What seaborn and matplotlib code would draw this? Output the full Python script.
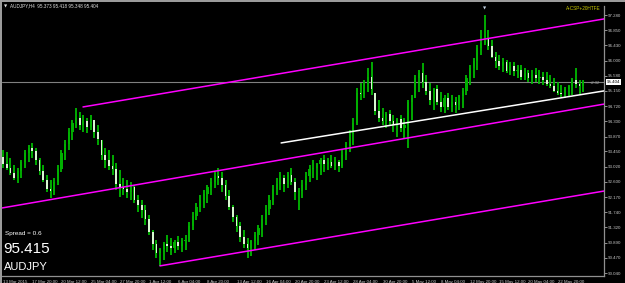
import numpy as np
import pandas as pd
import matplotlib
matplotlib.use("Agg")
import matplotlib.pyplot as plt
from matplotlib.lines import Line2D
import seaborn as sns

# ---------------- data ----------------
highs = [93.49, 93.44, 93.27, 93.07, 92.99, 93.21, 93.49, 93.63, 93.69, 93.55,
         93.27, 93.07, 92.79, 92.65, 92.71, 93.07, 93.49, 93.77, 94.11, 94.33,
         94.67, 94.56, 94.47, 94.39, 94.47, 94.33, 94.19, 93.77, 93.55, 93.49,
         93.35, 93.13, 92.93, 92.71, 92.65, 92.59, 92.51, 92.23, 92.09, 91.95,
         91.67, 91.25, 90.97, 90.74, 90.91, 91.11, 91.02, 90.97, 91.08, 91.02,
         91.11, 91.47, 91.75, 92.00, 92.23, 92.37, 92.51, 92.71, 92.87, 92.99,
         92.87, 92.65, 92.37, 91.95, 91.67, 91.47, 91.25, 91.02, 90.97, 91.19,
         91.39, 91.67, 91.95, 92.23, 92.51, 92.71, 92.87, 92.79, 92.87, 92.99,
         92.71, 92.42, 92.65, 92.87, 93.07, 93.21, 93.13, 93.27, 93.35, 93.27,
         93.35, 93.30, 93.21, 93.49, 93.72, 94.05, 94.39, 95.23, 95.37, 95.46,
         95.79, 95.96, 95.09, 94.89, 94.67, 94.56, 94.61, 94.47, 94.39, 94.47,
         94.39, 94.89, 95.04, 95.60, 95.74, 95.93, 95.60, 95.37, 95.23, 95.32,
         95.12, 95.04, 95.09, 95.04, 94.98, 95.04, 95.23, 95.60, 95.88, 96.07,
         96.44, 96.86, 97.28, 96.86, 96.58, 96.24, 96.16, 96.07, 96.02, 95.96,
         95.96, 95.88, 95.88, 95.79, 95.74, 95.74, 95.79, 95.74, 95.68, 95.68,
         95.60, 95.51, 95.40, 95.32, 95.26, 95.32, 95.51, 95.79, 95.46, 95.46]
lows = [92.99, 92.93, 92.79, 92.65, 92.57, 92.71, 92.99, 93.15, 93.27, 93.07,
        92.79, 92.59, 92.31, 92.14, 92.23, 92.51, 92.87, 93.21, 93.49, 93.77,
        94.11, 94.05, 94.00, 93.97, 94.05, 93.83, 93.63, 93.21, 92.99, 92.93,
        92.79, 92.37, 92.17, 92.23, 92.14, 92.09, 92.00, 91.75, 91.58, 91.39,
        91.11, 90.69, 90.46, 90.24, 90.41, 90.63, 90.55, 90.60, 90.69, 90.63,
        90.69, 90.91, 91.25, 91.53, 91.75, 91.86, 92.00, 92.23, 92.42, 92.51,
        92.31, 92.09, 91.81, 91.47, 91.19, 90.91, 90.74, 90.46, 90.52, 90.69,
        90.83, 91.05, 91.39, 91.67, 91.95, 92.23, 92.37, 92.31, 92.42, 92.51,
        92.09, 91.81, 92.14, 92.37, 92.59, 92.71, 92.65, 92.79, 92.87, 92.93,
        92.99, 92.93, 92.87, 92.99, 93.21, 93.44, 93.63, 94.19, 94.89, 94.95,
        95.12, 95.04, 94.47, 94.28, 94.19, 94.11, 94.19, 94.00, 93.86, 94.00,
        93.83, 93.55, 94.33, 94.95, 95.12, 95.23, 95.04, 94.75, 94.61, 94.75,
        94.56, 94.53, 94.61, 94.56, 94.53, 94.61, 94.67, 95.04, 95.32, 95.51,
        95.74, 96.16, 96.44, 96.30, 96.07, 95.79, 95.74, 95.68, 95.65, 95.60,
        95.57, 95.51, 95.46, 95.46, 95.40, 95.35, 95.40, 95.35, 95.32, 95.29,
        95.23, 95.12, 95.04, 94.98, 94.95, 95.01, 95.04, 95.23, 95.07, 95.12]
closes = [93.10, 93.00, 92.85, 92.70, 92.90, 93.15, 93.40, 93.55, 93.45, 93.20,
          92.90, 92.65, 92.40, 92.35, 92.60, 92.95, 93.40, 93.65, 94.00, 94.25,
          94.40, 94.20, 94.30, 94.15, 94.35, 94.00, 93.80, 93.35, 93.20, 93.05,
          92.95, 92.55, 92.45, 92.40, 92.30, 92.45, 92.10, 91.95, 91.80, 91.55,
          91.20, 90.85, 90.60, 90.70, 90.85, 90.80, 90.75, 90.90, 90.80, 90.95,
          90.95, 91.35, 91.65, 91.90, 92.10, 92.25, 92.45, 92.60, 92.75, 92.70,
          92.50, 92.20, 91.90, 91.60, 91.35, 91.05, 90.85, 90.75, 90.95, 91.10,
          91.30, 91.55, 91.85, 92.10, 92.40, 92.55, 92.70, 92.55, 92.80, 92.60,
          92.30, 92.35, 92.50, 92.75, 92.95, 93.00, 93.10, 93.20, 93.10, 93.15,
          93.05, 93.15, 93.05, 93.35, 93.60, 93.95, 94.25, 95.10, 95.05, 95.35,
          95.55, 95.20, 94.60, 94.40, 94.30, 94.50, 94.30, 94.20, 94.35, 94.10,
          94.20, 94.85, 94.95, 95.50, 95.65, 95.40, 95.15, 94.90, 95.20, 94.85,
          94.70, 94.95, 94.70, 94.85, 94.75, 95.00, 95.15, 95.50, 95.80, 96.00,
          96.35, 96.50, 96.60, 96.40, 96.10, 96.00, 95.85, 95.95, 95.70, 95.85,
          95.70, 95.75, 95.55, 95.65, 95.50, 95.60, 95.50, 95.55, 95.45, 95.35,
          95.30, 95.15, 95.10, 95.05, 95.20, 95.30, 95.45, 95.35, 95.30, 95.40]
first_open = 93.30

xtick_labels = ["13 Mar 2015", "17 Mar 20:00", "20 Mar 12:00", "25 Mar 04:00",
                "27 Mar 20:00", "1 Apr 12:00", "6 Apr 04:00", "8 Apr 20:00",
                "13 Apr 12:00", "16 Apr 04:00", "20 Apr 20:00", "23 Apr 12:00",
                "28 Apr 04:00", "30 Apr 20:00", "5 May 12:00", "8 May 04:00",
                "12 May 20:00", "15 May 12:00", "20 May 04:00", "22 May 20:00"]
ytick_values = [97.280, 96.850, 96.430, 96.000, 95.580, 95.150, 94.720, 94.300,
                93.870, 93.450, 93.020, 92.600, 92.170, 91.740, 91.320, 90.890,
                90.470, 90.040]

header = "AUDJPY,H4  95.373 95.418 95.348 95.404"
symbol = "AUDJPY"
last_price = 95.404
bid_big = "95.415"
spread_text = "Spread = 0.6"
indicator_name = "A-CSP+20HTFE"
timer_text = "<2:32"

# channel / trend line anchors (bar index, price)
upper_x, upper_y = [21.9, 164.7], [94.70, 97.17]
mid_x, mid_y = [-0.3, 164.7], [91.865, 94.78]
lower_x, lower_y = [43.0, 164.7], [90.24, 92.34]
trend_x, trend_y = [76.2, 164.7], [93.69, 95.15]

# ---------------- style ----------------
sns.set_style("dark", {"axes.facecolor": "black", "figure.facecolor": "black",
                       "axes.edgecolor": "#808080", "axes.grid": False,
                       "xtick.color": "#c8c8c8", "ytick.color": "#c8c8c8",
                       "text.color": "white", "axes.labelcolor": "white"})
plt.rcParams["font.family"] = ["Liberation Sans", "DejaVu Sans"]

W, H = 625, 283
fig = plt.figure(figsize=(W / 100, H / 100), dpi=100)
fig.patch.set_facecolor("black")
ax = fig.add_axes([2 / W, 7 / H, 602 / W, 270 / H])
ax.set_facecolor("black")

n = len(closes)
idx = np.arange(n)
opens = np.array([first_open] + closes[:-1])
cl = np.array(closes)
hi = np.array(highs)
lo = np.array(lows)
o_c = np.clip(opens, lo, hi)

wick_col = "#00c000"
ax.vlines(idx, lo, hi, color=wick_col, lw=1.25, zorder=3)
up = cl >= o_c
body_bottom = np.minimum(o_c, cl)
body_h = np.maximum(np.abs(cl - o_c), 0.02)
ax.bar(idx[up], body_h[up], bottom=body_bottom[up], width=0.6,
       color="#00b000", edgecolor="none", zorder=4)
ax.bar(idx[~up], body_h[~up], bottom=body_bottom[~up], width=0.45,
       color="#d8f8d0", edgecolor="none", zorder=4)

# current price line
ax.axhline(last_price, color="#808080", lw=0.8, zorder=2)

# rays
def ray(xs, ys, color):
    slope = (ys[1] - ys[0]) / (xs[1] - xs[0])
    x_end = 170
    df = pd.DataFrame({"x": [xs[0], x_end], "y": [ys[0], ys[0] + slope * (x_end - xs[0])]})
    sns.lineplot(data=df, x="x", y="y", ax=ax, color=color, lw=1.1, zorder=5)

ray(upper_x, upper_y, "#ff00ff")
ray(mid_x, mid_y, "#ff00ff")
ray(lower_x, lower_y, "#ff00ff")
ray(trend_x, trend_y, "#ffffff")

ax.set_xlim(-0.3, 164.7)
ax.set_ylim(89.956, 97.533)
ax.set_xlabel("")
ax.set_ylabel("")

# axes, ticks
for s in ["left", "top"]:
    ax.spines[s].set_visible(False)
for s in ["right", "bottom"]:
    ax.spines[s].set_color("#909090")
    ax.spines[s].set_linewidth(0.9)
ax.yaxis.tick_right()
ax.set_yticks(ytick_values)
ax.set_yticklabels([f"{v:.3f}" for v in ytick_values], fontsize=3.2)
ax.set_xticks(np.arange(0, 8 * len(xtick_labels), 8))
ax.set_xticklabels(xtick_labels, fontsize=3.2, ha="left")
ax.tick_params(axis="y", length=2, width=0.5, pad=1, colors="#c8c8c8")
ax.tick_params(axis="x", length=2, width=0.5, pad=0.8, colors="#c8c8c8")

# price box on the axis
ax.annotate(f"{last_price:.3f}", xy=(1.0, last_price), xycoords=("axes fraction", "data"),
            xytext=(2, 0), textcoords="offset points", fontsize=3.2, color="black",
            va="center", ha="left",
            bbox=dict(boxstyle="square,pad=0.15", fc="white", ec="none"),
            annotation_clip=False)
ax.text(160.8, last_price - 0.02, timer_text, fontsize=3.0, color="#a0a0a0",
        va="center", ha="left", zorder=6)
ax.text(132, 97.47, "\u25bc", fontsize=3, color="#c0d0e0", ha="center",
        va="center", family=["DejaVu Sans"], clip_on=False)

# overlay texts
fig.text(4 / W, 1 - 6 / H, "\u25bc", fontsize=3, color="#e0e0e0", va="center",
         family=["DejaVu Sans"])
fig.text(10 / W, 1 - 6 / H, header, fontsize=3.3, color="#e0e0e0", va="center")
fig.text(601 / W, 1 - 9 / H, indicator_name, fontsize=3.4, color="#c8c800",
         va="center", ha="right")
fig.text(5 / W, 1 - 234 / H, spread_text, fontsize=4.6, color="white", va="center")
fig.text(3 / W, 1 - 249 / H, bid_big, fontsize=11, color="white", va="center")
fig.text(4 / W, 1 - 267 / H, symbol, fontsize=8, color="white", va="center")

# window border
fig.add_artist(Line2D([0, 1], [1 - 1 / H, 1 - 1 / H], transform=fig.transFigure,
                      color="#a0a0a0", lw=1.4))
fig.add_artist(Line2D([1 / W, 1 / W], [0, 1], transform=fig.transFigure,
                      color="#a0a0a0", lw=1.4))

fig.savefig("out.png", dpi=100, facecolor="black")
